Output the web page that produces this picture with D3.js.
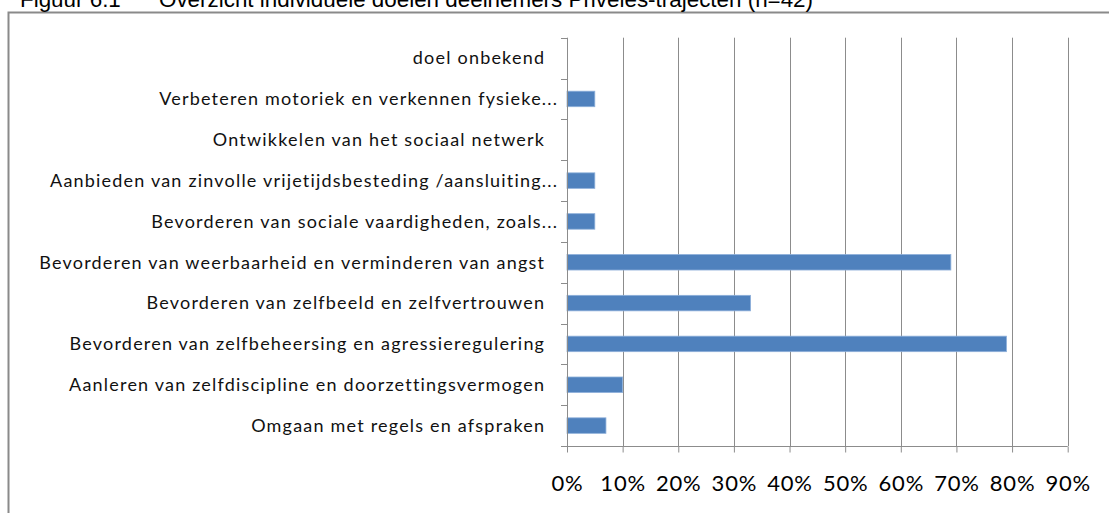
<!DOCTYPE html>
<html>
<head>
<meta charset="utf-8">
<script src="https://cdn.jsdelivr.net/npm/d3@7"></script>
<style>
  body { margin: 0; background: #fff; }
  svg { display: block; }
</style>
</head>
<body>
<div id="chart"></div>
<script>
// Categories, top to bottom as shown in the chart
var categories = [
    "doel onbekend",
    "Verbeteren motoriek en verkennen fysieke...",
    "Ontwikkelen van het sociaal netwerk",
    "Aanbieden van zinvolle vrijetijdsbesteding /aansluiting...",
    "Bevorderen van sociale vaardigheden, zoals...",
    "Bevorderen van weerbaarheid en verminderen van angst",
    "Bevorderen van zelfbeeld en zelfvertrouwen",
    "Bevorderen van zelfbeheersing en agressieregulering",
    "Aanleren van zelfdiscipline en doorzettingsvermogen",
    "Omgaan met regels en afspraken"
];

// Share of participants (fraction)
var values = [0, 0.05, 0, 0.05, 0.05, 0.69, 0.33, 0.79, 0.10, 0.07];

var xTicks = [0, 0.1, 0.2, 0.3, 0.4, 0.5, 0.6, 0.7, 0.8, 0.9];

var titleNum = "Figuur 6.1";
var titleText = "Overzicht individuele doelen deelnemers Priveles-trajecten (n=42)";

var data = categories.map((c, i) => ({ key: c, value: values[i] }));

var W = 1109, H = 513;
var plot = { left: 567, right: 1067.7, top: 37.7, bottom: 446 };

var svg = d3.select("#chart")
    .append("svg")
    .attr("width", W)
    .attr("height", H);

// outer frame (cut off at right and bottom)
svg.append("rect")
    .attr("x", 8.5)
    .attr("y", 12.5)
    .attr("width", W + 50)
    .attr("height", H + 50)
    .attr("fill", "none")
    .attr("stroke", "#8a8a8a")
    .attr("stroke-width", 2);

// title, partly cut off at the top
var title = svg.append("text")
    .attr("y", 7)
    .style("font-family", "'Liberation Sans', Arial, sans-serif")
    .style("font-size", "22.4px")
    .style("fill", "#000");
title.append("tspan").attr("x", 20).text(titleNum);
title.append("tspan").attr("x", 159).text(titleText);

// scales
var x = d3.scaleLinear()
    .domain([0, 0.9])
    .range([plot.left, plot.right]);

var y = d3.scaleBand()
    .domain(categories)
    .range([plot.top, plot.bottom])
    .paddingInner(0.62)
    .paddingOuter(0.31);

var step = y.step();
var bounds = d3.range(categories.length + 1).map(i => plot.top + i * step);

// gridlines
svg.append("g")
    .selectAll("line")
    .data(xTicks.slice(1))
    .enter()
    .append("line")
    .attr("x1", d => Math.round(x(d)) + 0.5)
    .attr("x2", d => Math.round(x(d)) + 0.5)
    .attr("y1", plot.top)
    .attr("y2", plot.bottom)
    .attr("stroke", "#8c8c8c")
    .attr("stroke-width", 1);

// bars
svg.append("g")
    .selectAll("rect")
    .data(data.filter(d => d.value > 0))
    .enter()
    .append("rect")
    .attr("x", x(0))
    .attr("y", d => y(d.key))
    .attr("width", d => x(d.value) - x(0))
    .attr("height", y.bandwidth())
    .attr("fill", "#4f81bd")
    .attr("stroke", "#8eb0da")
    .attr("stroke-width", 0.8);

// x axis
var xAxis = svg.append("g")
    .attr("transform", `translate(0,${Math.round(plot.bottom) + 0.5})`)
    .call(d3.axisBottom(x)
        .tickValues(xTicks)
        .tickFormat(d3.format(".0%"))
        .tickSize(6)
        .tickSizeOuter(0));
xAxis.select(".domain")
    .attr("stroke", "#8c8c8c")
    .attr("d", `M${plot.left - 6},0H${plot.right}`);
xAxis.selectAll(".tick line").attr("stroke", "#8c8c8c");
xAxis.selectAll(".tick text")
    .attr("y", 44)
    .attr("dy", 0)
    .style("font-family", "Lato, 'Open Sans', sans-serif")
    .style("font-size", "22px")
    .style("letter-spacing", "0.8px")
    .style("fill", "#000");

// y axis: line with ticks at category boundaries
var yAxis = svg.append("g");
yAxis.append("line")
    .attr("x1", Math.round(plot.left) + 0.5)
    .attr("x2", Math.round(plot.left) + 0.5)
    .attr("y1", plot.top)
    .attr("y2", plot.bottom)
    .attr("stroke", "#8c8c8c");
yAxis.selectAll(".tk")
    .data(bounds)
    .enter()
    .append("line")
    .attr("class", "tk")
    .attr("x1", plot.left - 6)
    .attr("x2", plot.left)
    .attr("y1", d => Math.round(d) + 0.5)
    .attr("y2", d => Math.round(d) + 0.5)
    .attr("stroke", "#8c8c8c");

// category labels
yAxis.selectAll(".lbl")
    .data(categories)
    .enter()
    .append("text")
    .attr("class", "lbl")
    .attr("x", d => d.endsWith("...") ? plot.left - 8.8 : plot.left - 21.8)
    .attr("y", d => y(d) + y.bandwidth() / 2)
    .attr("dy", "0.35em")
    .attr("text-anchor", "end")
    .style("font-family", "Lato, 'Open Sans', sans-serif")
    .style("font-size", "18px")
    .style("letter-spacing", "1.2px")
    .style("fill", "#111")
    .text(d => d);
</script>
</body>
</html>
